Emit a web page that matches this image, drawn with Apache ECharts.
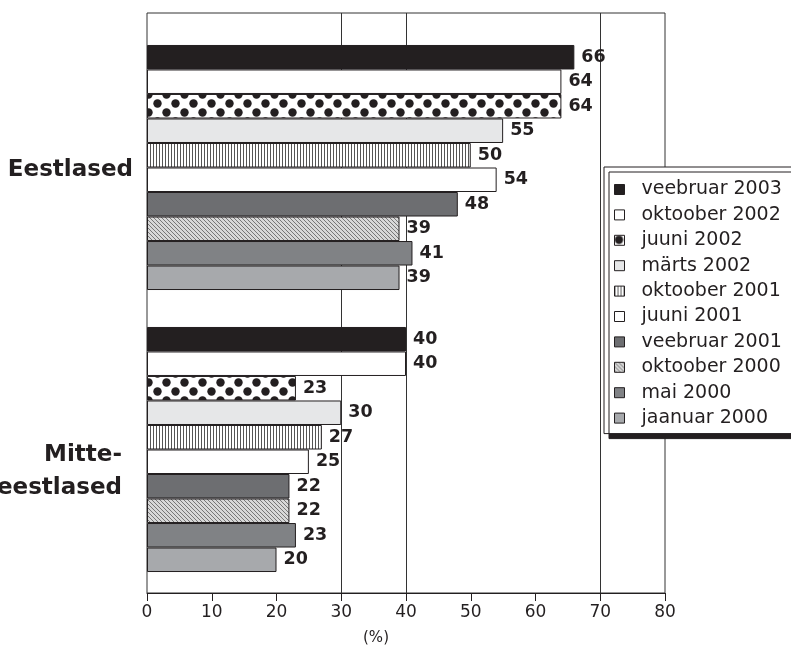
<!DOCTYPE html>
<html><head><meta charset="utf-8">
<script src="https://cdn.jsdelivr.net/npm/echarts@6/dist/echarts.min.js"></script>
<style>html,body{margin:0;padding:0;background:#fff}#c{width:791px;height:650px}</style>
</head><body><div id="c"></div>
<script>
const categories = ['Eestlased', 'Mitte-\neestlased'];
const seriesNames = ['veebruar 2003','oktoober 2002','juuni 2002','märts 2002','oktoober 2001','juuni 2001','veebruar 2001','oktoober 2000','mai 2000','jaanuar 2000'];
const veebruar2003 = [66, 40];
const oktoober2002 = [64, 40];
const juuni2002 = [64, 23];
const marts2002 = [55, 30];
const oktoober2001 = [50, 27];
const juuni2001 = [54, 25];
const veebruar2001 = [48, 22];
const oktoober2000 = [39, 22];
const mai2000 = [41, 23];
const jaanuar2000 = [39, 20];
const seriesData = [veebruar2003, oktoober2002, juuni2002, marts2002, oktoober2001, juuni2001, veebruar2001, oktoober2000, mai2000, jaanuar2000];
const xTicks = [0,10,20,30,40,50,60,70,80];

function makeTile(w, h, draw) {
  const c = document.createElement('canvas'); c.width = w; c.height = h;
  const g = c.getContext('2d'); g.fillStyle = '#fff'; g.fillRect(0,0,w,h); draw(g); return c;
}
const dots = makeTile(18, 18, g => {
  g.fillStyle = '#231f20';
  [[4.5,4.5],[13.5,13.5],[-4.5,13.5],[22.5,13.5],[13.5,-4.5],[13.5,22.5]].forEach(([x,y]) => { g.beginPath(); g.arc(x,y,4.2,0,Math.PI*2); g.fill(); });
});
const vstripes = makeTile(3, 4, g => { g.fillStyle = '#555'; g.fillRect(0,0,1,4); });
const diag = makeTile(4, 4, g => {
  g.fillStyle = '#d8d8d8'; g.fillRect(0,0,4,4);
  g.fillStyle = '#777';
  for (let i=0;i<4;i++) g.fillRect(i,i,1,1);
});
const fills = ['#231f20', '#ffffff', {image: dots, repeat: 'repeat'}, '#e6e7e8', {image: vstripes, repeat: 'repeat'}, '#ffffff', '#6d6e71', {image: diag, repeat: 'repeat'}, '#808285', '#a7a9ac'];

const chart = echarts.init(document.getElementById('c'), null, {renderer: 'canvas'});
const FF = '"DejaVu Sans", sans-serif';
chart.setOption({
  animation: false,
  grid: [
    {left: 147, right: 126, top: 13, bottom: 57, show: true, borderColor: '#333', borderWidth: 1, backgroundColor: 'transparent', containLabel: false, outerBoundsMode: 'none'},
    {left: 147, right: 126, top: 26.5, bottom: 59.5, show: false, containLabel: false, outerBoundsMode: 'none'}
  ],
  legend: {
    orient: 'vertical', left: 604, top: 167, itemWidth: 10, itemHeight: 10, itemGap: 6.4, icon: 'rect',
    padding: [13, 12, 6, 10], backgroundColor: '#fff', borderColor: '#231f20', borderWidth: 1,
    shadowColor: '#231f20', shadowOffsetX: 5, shadowOffsetY: 5, shadowBlur: 0,
    textStyle: {fontFamily: FF, fontSize: 19, color: '#231f20', padding: [0,0,0,12]},
    data: seriesNames.map(n => ({name: n, itemStyle: {borderColor: '#231f20', borderWidth: 1}}))
  },
  xAxis: [{
    gridIndex: 0, type: 'value', min: 0, max: 80, interval: 10,
    axisLine: {show: true, lineStyle: {color: '#231f20', width: 1}},
    axisTick: {show: true, length: 8, lineStyle: {color: '#231f20'}},
    axisLabel: {fontFamily: FF, fontSize: 17, color: '#231f20', margin: 11, formatter: v => xTicks.includes(v) ? String(v) : ''},
    splitLine: {show: true, lineStyle: {color: ['transparent','transparent','transparent','#333','#333','transparent','transparent','#333','transparent'], width: 1}},
    name: '(%)', nameLocation: 'middle', nameGap: 38,
    nameTextStyle: {fontFamily: FF, fontSize: 15, color: '#231f20', padding: [0, 60, 0, 0]}
  }, {
    gridIndex: 1, type: 'value', min: 0, max: 80, interval: 10, show: false
  }],
  yAxis: [{
    gridIndex: 0, type: 'category', data: categories, show: false
  }, {
    gridIndex: 1, type: 'category', data: categories, inverse: true,
    axisLine: {show: false}, axisTick: {show: false},
    axisLabel: {
      margin: 14, color: '#231f20',
      formatter: (v, i) => i === 0 ? '{s2|}\n{e|' + v + '}' : '{s|}\n' + v.split('\n').map(s => '{m|' + s + '}').join('\n'),
      rich: {
        s2: {lineHeight: 6, fontSize: 1},
        s: {lineHeight: 44, fontSize: 1},
        e: {fontFamily: FF, fontSize: 23, fontWeight: 'bold', color: '#231f20', lineHeight: 30},
        m: {fontFamily: FF, fontSize: 23, fontWeight: 'bold', color: '#231f20', lineHeight: 33, padding: [0, 11, 0, 0]}
      }
    }
  }],
  series: seriesData.map((d, i) => ({
    name: seriesNames[i], type: 'bar', data: d, xAxisIndex: 1, yAxisIndex: 1,
    barGap: '0%', barCategoryGap: '13.1%',
    itemStyle: {color: fills[i], borderColor: '#231f20', borderWidth: 1},
    label: {show: true, position: 'right', distance: 7, fontFamily: FF, fontSize: 17.5, fontWeight: 'bold', color: '#231f20'}
  }))
});
</script></body></html>
